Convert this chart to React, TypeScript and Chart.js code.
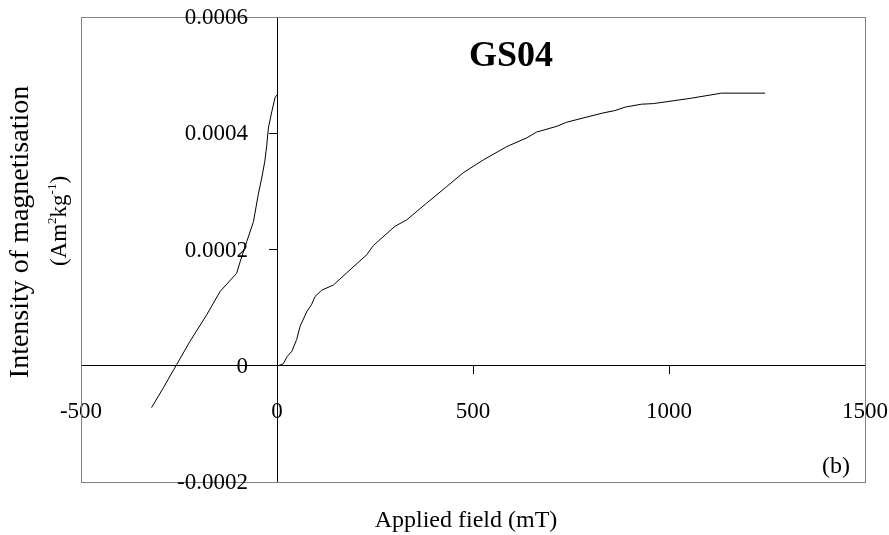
import React, { useEffect, useRef } from 'react';
import { Chart, registerables } from 'chart.js';

Chart.register(...registerables);

const SERIF = '"Liberation Serif", "Times New Roman", Times, serif';

// IRM acquisition curve (applied field in mT, magnetisation in Am2/kg)
const irmFields = [0, 3, 16, 26, 38, 50, 59, 76, 88, 97, 114, 144, 178, 229, 246, 301, 331, 382, 429, 475, 526, 586, 637, 662, 714, 739, 832, 862, 888, 930, 960, 1054, 1134, 1245];
const irmValues = [0, 0, 0.34e-5, 1.6e-5, 2.5e-5, 4.5e-5, 6.8e-5, 9.3e-5, 10.5e-5, 11.9e-5, 13.0e-5, 13.9e-5, 16.0e-5, 19.1e-5, 20.7e-5, 24.0e-5, 25.1e-5, 28.0e-5, 30.6e-5, 33.2e-5, 35.4e-5, 37.7e-5, 39.2e-5, 40.2e-5, 41.2e-5, 41.9e-5, 43.5e-5, 43.9e-5, 44.5e-5, 45.0e-5, 45.1e-5, 46.0e-5, 46.9e-5, 46.9e-5];

// Back-field (reverse) curve
const backFields = [-320, -290, -256, -222, -179, -145, -103, -94, -77, -60, -48, -39, -31, -26, -22, -13, -5, 0];
const backValues = [-7.2e-5, -3.8e-5, 0.2e-5, 4.2e-5, 8.8e-5, 12.8e-5, 15.9e-5, 17.9e-5, 21.4e-5, 24.8e-5, 29.4e-5, 32.3e-5, 35.2e-5, 38.0e-5, 40.9e-5, 43.8e-5, 46.1e-5, 46.6e-5];

const xTickValues = [-500, 0, 500, 1000, 1500];
const xTickLabels = ['-500', '0', '500', '1000', '1500'];
const yTickValues = [-0.0002, 0, 0.0002, 0.0004, 0.0006];
const yTickLabels = ['-0.0002', '0', '0.0002', '0.0004', '0.0006'];

const chartTitle = 'GS04';
const panelLabel = '(b)';
const xTitle = 'Applied field (mT)';
const yTitleLine1 = 'Intensity of magnetisation';
// second line pieces: [text, isSuperscript]
const yTitleLine2: [string, boolean][] = [['(Am', false], ['2', true], ['kg', false], ['-1', true], [')', false]];

function labelFor(values: number[], labels: string[], v: number) {
  for (let i = 0; i < values.length; i++) {
    if (Math.abs(values[i] - v) < 1e-9 * Math.max(1, Math.abs(v)) + 1e-12) return labels[i];
  }
  return '';
}

function zeroPadding(scale: any) {
  scale.paddingLeft = 0;
  scale.paddingRight = 0;
  scale.paddingTop = 0;
  scale.paddingBottom = 0;
}

const decorPlugin = {
  id: 'decor',
  beforeDatasetsDraw(chart: any) {
    const { ctx, chartArea } = chart;
    ctx.save();
    ctx.strokeStyle = '#808080';
    ctx.lineWidth = 1;
    ctx.strokeRect(
      Math.round(chartArea.left) + 0.5,
      Math.round(chartArea.top) + 0.5,
      Math.round(chartArea.right - chartArea.left),
      Math.round(chartArea.bottom - chartArea.top)
    );
    ctx.restore();
  },
  afterDraw(chart: any) {
    const { ctx } = chart;
    const xs = chart.scales.x;
    const ys = chart.scales.y;
    ctx.save();
    ctx.fillStyle = '#000';

    // y tick labels, to the left of the y axis (which sits at x = 0)
    const axisX = xs.getPixelForValue(0);
    ctx.font = `23px ${SERIF}`;
    ctx.textAlign = 'right';
    ctx.textBaseline = 'middle';
    yTickValues.forEach((v, i) => {
      ctx.fillText(yTickLabels[i], axisX - 29, ys.getPixelForValue(v) + 1);
    });

    // chart title
    ctx.font = `bold 36px ${SERIF}`;
    ctx.textAlign = 'center';
    ctx.textBaseline = 'middle';
    ctx.fillText(chartTitle, 511, 57);

    // panel label
    ctx.font = `24px ${SERIF}`;
    ctx.textBaseline = 'alphabetic';
    ctx.fillText(panelLabel, 836, 473);

    // x title
    ctx.fillText(xTitle, 466, 527);

    // y title
    ctx.save();
    ctx.rotate(-Math.PI / 2);
    ctx.font = `28px ${SERIF}`;
    ctx.textAlign = 'center';
    ctx.textBaseline = 'alphabetic';
    ctx.fillText(yTitleLine1, -232, 28);

    // line 2 with superscripts
    const baseFont = `23px ${SERIF}`;
    const supFont = `13px ${SERIF}`;
    let total = 0;
    for (const [t, sup] of yTitleLine2) {
      ctx.font = sup ? supFont : baseFont;
      total += ctx.measureText(t).width;
    }
    let cx = -221 - total / 2;
    ctx.textAlign = 'left';
    for (const [t, sup] of yTitleLine2) {
      ctx.font = sup ? supFont : baseFont;
      ctx.fillText(t, cx, sup ? 56 : 66);
      cx += ctx.measureText(t).width;
    }
    ctx.restore();

    ctx.restore();
  },
};

export default function App() {
  const ref = useRef<HTMLCanvasElement>(null);

  useEffect(() => {
    const canvas = ref.current;
    if (!canvas) return;
    const chart = new Chart(canvas, {
      type: 'line',
      data: {
        datasets: [
          {
            label: 'IRM acquisition',
            data: irmFields.map((x, i) => ({ x, y: irmValues[i] })),
            borderColor: '#000',
            borderWidth: 1,
            pointRadius: 0,
            tension: 0,
            fill: false,
          },
          {
            label: 'Back field',
            data: backFields.map((x, i) => ({ x, y: backValues[i] })),
            borderColor: '#000',
            borderWidth: 1,
            pointRadius: 0,
            tension: 0,
            fill: false,
          },
        ],
      },
      options: {
        responsive: false,
        animation: false,
        devicePixelRatio: 1,
        layout: { padding: { left: 81, top: 17, right: 24, bottom: 53 } },
        plugins: {
          legend: { display: false },
          tooltip: { enabled: false },
          title: { display: false },
        },
        scales: {
          x: {
            type: 'linear',
            min: -500,
            max: 1500,
            position: { y: 0 } as any,
            afterBuildTicks: (scale: any) => {
              scale.ticks = xTickValues.map((value) => ({ value }));
            },
            afterFit: zeroPadding,
            ticks: {
              callback: (v: any) => labelFor(xTickValues, xTickLabels, Number(v)),
              font: { family: SERIF, size: 23 },
              color: '#000',
              padding: 24,
              maxRotation: 0,
              autoSkip: false,
            },
            grid: { drawOnChartArea: false, drawTicks: true, tickLength: 8, color: '#000', lineWidth: 1 },
            border: { display: true, color: '#000', width: 1 },
          },
          y: {
            type: 'linear',
            min: -0.0002,
            max: 0.0006,
            position: { x: 0 } as any,
            afterBuildTicks: (scale: any) => {
              scale.ticks = yTickValues.map((value) => ({ value }));
            },
            afterFit: zeroPadding,
            ticks: {
              display: false,
              autoSkip: false,
            },
            grid: { drawOnChartArea: false, drawTicks: true, tickLength: 8, color: '#000', lineWidth: 1 },
            border: { display: true, color: '#000', width: 1 },
          },
        },
      },
      plugins: [decorPlugin],
    });
    return () => chart.destroy();
  }, []);

  return (
    <div style={{ position: 'fixed', left: 0, top: 0, width: 889, height: 535, background: '#fff' }}>
      <canvas ref={ref} width={889} height={535} style={{ display: 'block', width: 889, height: 535 }} />
    </div>
  );
}
